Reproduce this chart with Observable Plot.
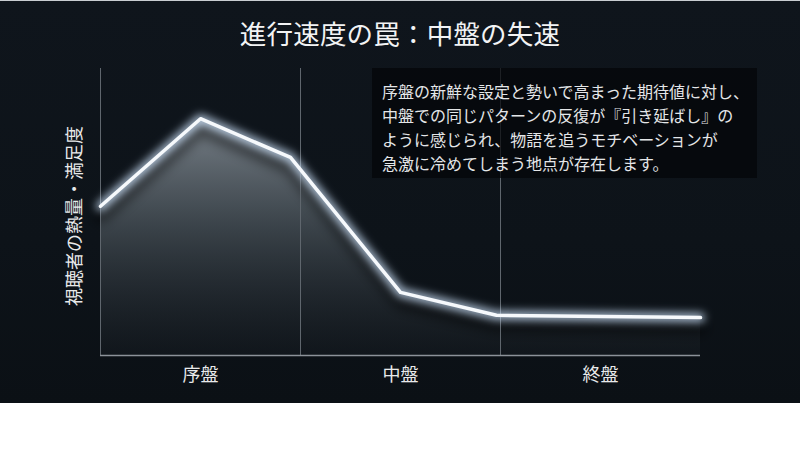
<!DOCTYPE html>
<html>
<head>
<meta charset="utf-8">
<script src="https://cdn.jsdelivr.net/npm/d3@7"></script>
<script src="https://cdn.jsdelivr.net/npm/@observablehq/plot@0.6"></script>
<style>
  body { margin: 0; background: #ffffff; font-family: "Noto Sans CJK JP", "Noto Sans", sans-serif; }
  #wrap { position: relative; width: 800px; height: 403px; overflow: hidden;
          background: linear-gradient(180deg, #0f151c 0%, #0d1319 60%, #0b1015 100%);
          box-shadow: inset 0 1px 0 #c9cdd1; }
  #title { height: 60px; line-height: 66px; text-align: center; color: #f2f3f4;
           font-size: 26.5px; font-weight: 400; letter-spacing: 0.2px; }
  #note { position: absolute; left: 372px; top: 68px; width: 385px; height: 110px; box-sizing: border-box;
          padding: 11px 0 0 10px; background: rgba(4,6,9,0.72); color: #e4e6e8;
          font-size: 16px; line-height: 24px; white-space: pre; }
</style>
</head>
<body>
<div id="wrap">
  <div id="title"></div>
  <div id="chart"></div>
  <div id="note"></div>
</div>
<script>
const titleText = "進行速度の罠：中盤の失速";
const yLabel = "視聴者の熱量・満足度";
const phases = ["序盤", "中盤", "終盤"];
const phaseCenters = [0.5, 1.5, 2.5];
const phaseBounds = [0, 1, 2];
const progress = [0, 0.5, 0.95, 1.5, 1.98, 3.0];
const engagement = [52, 82.5, 69, 22, 14, 13.2];
const noteLines = [
  "序盤の新鮮な設定と勢いで高まった期待値に対し、",
  "中盤での同じパターンの反復が『引き延ばし』の",
  "ように感じられ、物語を追うモチベーションが",
  "急激に冷めてしまう地点が存在します。"
];

document.getElementById("title").textContent = titleText;
document.getElementById("note").textContent = noteLines.join("\n");

const data = progress.map((p, i) => ({p, v: engagement[i]}));

const chart = Plot.plot({
  width: 800,
  height: 343,
  marginTop: 8,
  marginBottom: 48,
  marginLeft: 100,
  marginRight: 100,
  style: {fontFamily: "'Noto Sans CJK JP', sans-serif", background: "transparent", color: "#e6e6e6", overflow: "visible"},
  x: {domain: [0, 3], axis: null},
  y: {domain: [0, 100], axis: null},
  marks: [
    Plot.areaY(data, {x: "p", y: "v", fill: "url(#areaGrad)"}),
    Plot.line(data, {x: "p", y: "v", dy: 10, stroke: "#000000", strokeWidth: 14, strokeOpacity: 0.45,
                     strokeLinejoin: "round"}),
    Plot.ruleX(phaseBounds, {y1: 0, y2: 100, stroke: "#5f666d", strokeWidth: 1}),
    Plot.ruleY([0], {x1: 0, x2: 3, stroke: "#8c9299", strokeWidth: 1.5}),
    Plot.line(data, {x: "p", y: "v", stroke: "#cfe6ff", strokeWidth: 9, strokeOpacity: 0.8,
                     strokeLinejoin: "round", strokeLinecap: "round"}),
    Plot.line(data, {x: "p", y: "v", stroke: "#f6f9fc", strokeWidth: 3.5,
                     strokeLinejoin: "round", strokeLinecap: "round"}),
    Plot.axisX(phaseCenters, {tickFormat: (d) => phases[phaseCenters.indexOf(d)], tickSize: 0,
                              tickPadding: 13, fontSize: 18, color: "#e8e9ea", label: null}),
    Plot.text([yLabel], {frameAnchor: "left", text: d => d, rotate: -90, dx: -25, dy: 4,
                         textAnchor: "middle", fontSize: 18, fill: "#e8e9ea"})
  ]
});

const svgNode = chart.tagName.toLowerCase() === "svg" ? chart : chart.querySelector("svg");
const svg = d3.select(svgNode);
const defs = svg.insert("defs", ":first-child");
const grad = defs.append("linearGradient").attr("id", "areaGrad")
  .attr("gradientUnits", "userSpaceOnUse").attr("x1", 0).attr("y1", 58).attr("x2", 0).attr("y2", 295);
grad.append("stop").attr("offset", "0%").attr("stop-color", "#858e96").attr("stop-opacity", 0.9);
grad.append("stop").attr("offset", "45%").attr("stop-color", "#4b545b").attr("stop-opacity", 0.75);
grad.append("stop").attr("offset", "100%").attr("stop-color", "#1a2026").attr("stop-opacity", 0.35);
const glow = defs.append("filter").attr("id", "glowF").attr("filterUnits", "userSpaceOnUse")
  .attr("x", 0).attr("y", 0).attr("width", 800).attr("height", 343);
glow.append("feGaussianBlur").attr("stdDeviation", 4);
const shadow = defs.append("filter").attr("id", "shadowF").attr("filterUnits", "userSpaceOnUse")
  .attr("x", 0).attr("y", 0).attr("width", 800).attr("height", 343);
shadow.append("feGaussianBlur").attr("stdDeviation", 6);
const lineGroups = svgNode.querySelectorAll('g[aria-label="line"]');
if (lineGroups.length >= 3) {
  lineGroups[0].setAttribute("filter", "url(#shadowF)");
  lineGroups[1].setAttribute("filter", "url(#glowF)");
}

document.getElementById("chart").appendChild(chart);
</script>
</body>
</html>
